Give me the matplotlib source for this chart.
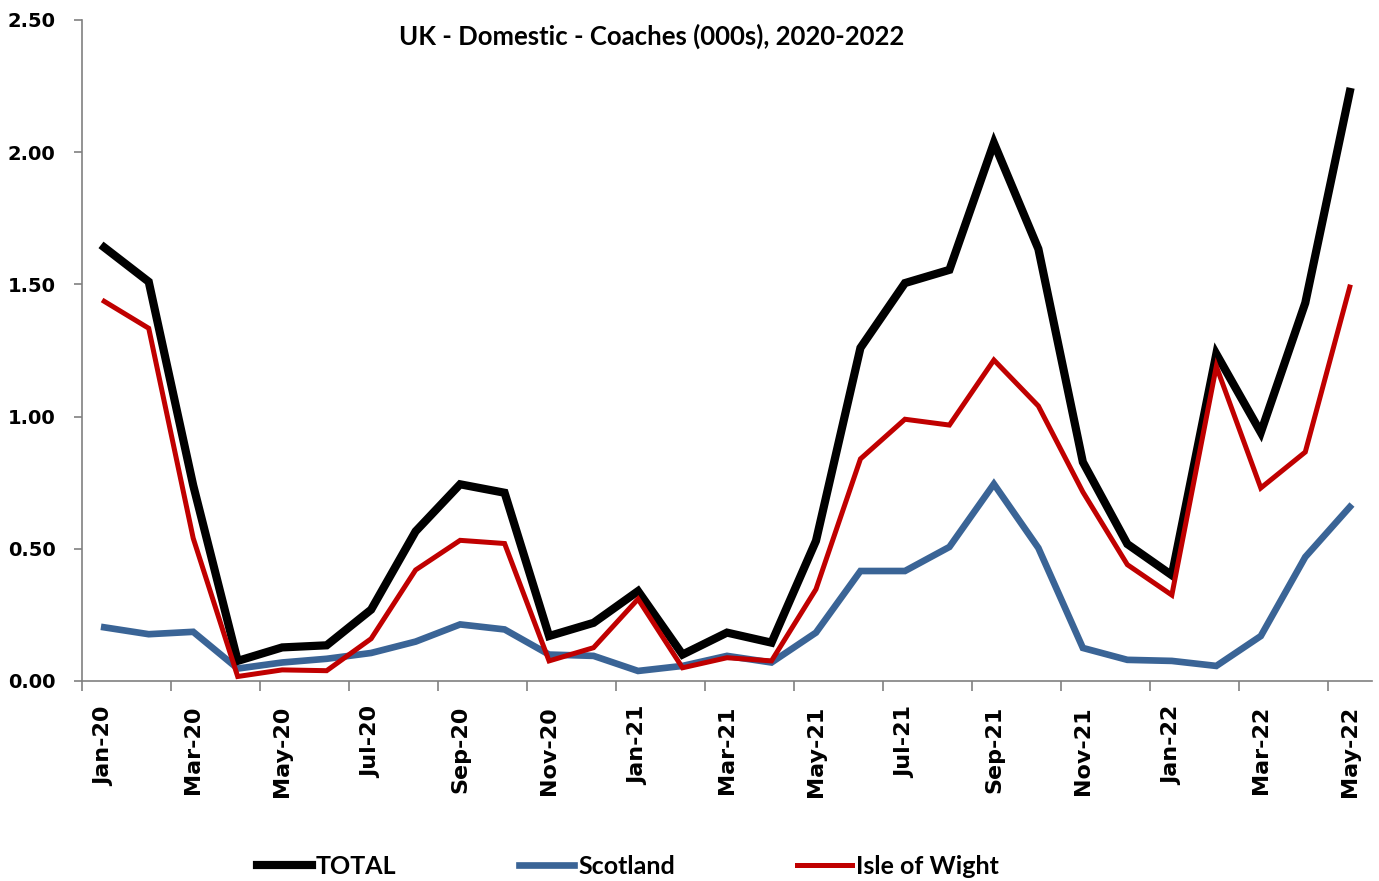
import matplotlib
matplotlib.use("Agg")
import matplotlib.pyplot as plt
from matplotlib.ticker import FixedLocator, NullFormatter

months = ["Jan-20", "Feb-20", "Mar-20", "Apr-20", "May-20", "Jun-20", "Jul-20", "Aug-20",
          "Sep-20", "Oct-20", "Nov-20", "Dec-20", "Jan-21", "Feb-21", "Mar-21", "Apr-21",
          "May-21", "Jun-21", "Jul-21", "Aug-21", "Sep-21", "Oct-21", "Nov-21", "Dec-21",
          "Jan-22", "Feb-22", "Mar-22", "Apr-22", "May-22"]

total = [1.64, 1.51, 0.74, 0.076, 0.127, 0.135, 0.27, 0.566,
         0.744, 0.712, 0.17, 0.22, 0.34, 0.10, 0.183, 0.145,
         0.53, 1.26, 1.505, 1.555, 2.035, 1.634, 0.828, 0.518,
         0.40, 1.237, 0.94, 1.43, 2.228]
scotland = [0.203, 0.177, 0.186, 0.047, 0.07, 0.084, 0.106, 0.149,
            0.214, 0.195, 0.10, 0.095, 0.038, 0.057, 0.095, 0.07,
            0.183, 0.416, 0.416, 0.507, 0.745, 0.503, 0.125, 0.08,
            0.076, 0.057, 0.17, 0.469, 0.658]
isle_of_wight = [1.436, 1.334, 0.54, 0.017, 0.042, 0.039, 0.16, 0.42,
                 0.532, 0.52, 0.076, 0.126, 0.31, 0.05, 0.088, 0.076,
                 0.347, 0.84, 0.99, 0.968, 1.214, 1.04, 0.715, 0.44,
                 0.325, 1.19, 0.73, 0.866, 1.49]

title = "UK - Domestic - Coaches (000s), 2020-2022"
yticks = [0.0, 0.5, 1.0, 1.5, 2.0, 2.5]

fig = plt.figure(figsize=(13.79, 8.81), dpi=100)
ax = fig.add_axes([82/1379, (881-681)/881, (1372-82)/1379, (681-20)/881])

x = list(range(len(months)))
ax.plot(x, total, color="#000000", lw=5.9, label="TOTAL", solid_joinstyle="miter", zorder=3)
ax.plot(x, scotland, color="#3A6496", lw=4.8, label="Scotland", solid_joinstyle="miter", zorder=2)
ax.plot(x, isle_of_wight, color="#C00000", lw=3.6, label="Isle of Wight", solid_joinstyle="miter", zorder=4)

ax.set_xlim(-0.5, len(months) - 0.5)
ax.set_ylim(0, 2.5)

for s in ["top", "right"]:
    ax.spines[s].set_visible(False)
for s in ["left", "bottom"]:
    ax.spines[s].set_color("#808080")
    ax.spines[s].set_linewidth(1.2)

ax.set_yticks(yticks)
ax.set_yticklabels([f"{v:.2f}" for v in yticks], fontsize=14, fontweight="bold",
                   family="DejaVu Sans")
ax.tick_params(axis="y", direction="out", length=6, color="#808080", width=1.2, pad=13)

# major ticks at category boundaries every 2, labels at every 2nd category (minor)
ax.xaxis.set_major_locator(FixedLocator([i - 0.5 for i in range(0, len(months) + 1, 2)]))
ax.xaxis.set_major_formatter(NullFormatter())
ax.tick_params(axis="x", which="major", direction="out", length=7, color="#808080", width=1.2)
ax.xaxis.set_minor_locator(FixedLocator(list(range(0, len(months), 2))))
ax.set_xticklabels([months[i] for i in range(0, len(months), 2)], minor=True,
                   rotation=90, fontsize=16, fontweight="bold", family="DejaVu Sans")
ax.tick_params(axis="x", which="minor", length=0, pad=18)

fig.text(652/1379, 1 - 36/881, title, ha="center", va="center", fontsize=18.5,
         fontweight="bold", family="Lato")

leg = fig.legend(loc="center", bbox_to_anchor=(628/1379, 1 - 866/881), ncol=3,
                 frameon=False, handlelength=2.2, handletextpad=0.16, columnspacing=4.9,
                 prop={"family": "Lato", "weight": "bold", "size": 18})

fig.savefig("out.png", dpi=100)
